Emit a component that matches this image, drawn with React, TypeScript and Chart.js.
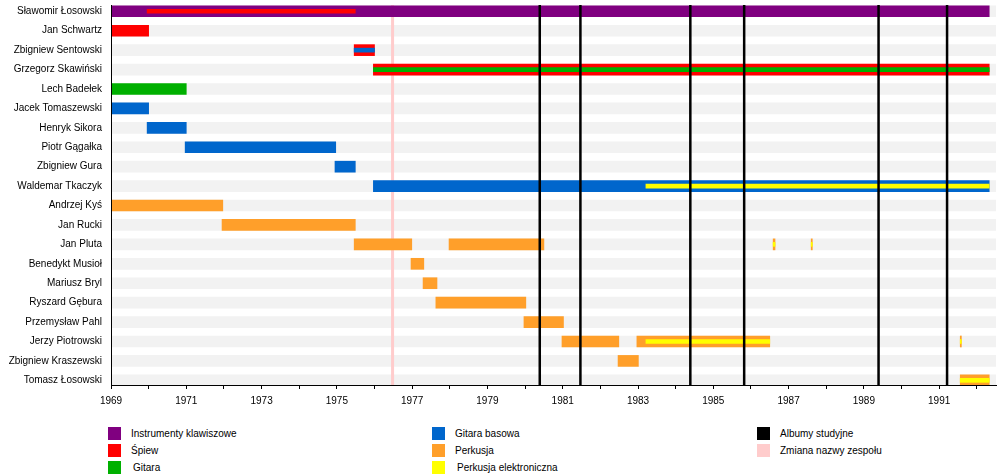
import React, { useEffect, useRef } from "react";
import { Chart, registerables } from "chart.js";

Chart.register(...registerables);

// ---- data ----
const members = [
  "Sławomir Łosowski",
  "Jan Schwartz",
  "Zbigniew Sentowski",
  "Grzegorz Skawiński",
  "Lech Badełek",
  "Jacek Tomaszewski",
  "Henryk Sikora",
  "Piotr Gągałka",
  "Zbigniew Gura",
  "Waldemar Tkaczyk",
  "Andrzej Kyś",
  "Jan Rucki",
  "Jan Pluta",
  "Benedykt Musioł",
  "Mariusz Bryl",
  "Ryszard Gębura",
  "Przemysław Pahl",
  "Jerzy Piotrowski",
  "Zbigniew Kraszewski",
  "Tomasz Łosowski",
];

const START = 1969;
const END = 1992.33;
const AXIS_MAX = 1992.51;

// [memberIndex, from, to]
const keyboards = [[0, 1969, END]];
const vocals = [
  [1, 1969, 1970],
  [2, 1975.46, 1976],
  [3, 1975.97, END],
];
const vocalsInner = [[0, 1969.96, 1975.49]];
const guitar = [[4, 1969, 1971]];
const guitarInner = [[3, 1975.97, END]];
const bass = [
  [5, 1969, 1970],
  [6, 1969.96, 1971],
  [7, 1970.97, 1974.97],
  [8, 1974.95, 1975.49],
  [9, 1975.97, END],
];
const bassInner = [[2, 1975.46, 1976]];
const drums = [
  [10, 1969, 1971.97],
  [11, 1971.95, 1975.49],
  [12, 1975.46, 1976.99],
  [12, 1977.98, 1980.5],
  [12, 1986.59, 1986.64],
  [12, 1987.6, 1987.63],
  [13, 1976.97, 1977.31],
  [14, 1977.29, 1977.66],
  [15, 1977.63, 1980.02],
  [16, 1979.97, 1981.02],
  [17, 1980.98, 1982.49],
  [17, 1982.97, 1986.5],
  [17, 1991.56, 1991.59],
  [18, 1982.47, 1983.01],
  [19, 1991.56, END],
];
const eDrumsInner = [
  [9, 1983.21, END],
  [12, 1986.59, 1986.64],
  [12, 1987.6, 1987.63],
  [17, 1983.21, 1986.5],
  [17, 1991.56, 1991.59],
  [19, 1991.56, END],
];
const studioAlbums = [1980.39, 1981.47, 1984.39, 1985.82, 1989.39, 1991.21];
const bandRename = [1976.48];

const yearTicks = [
  1969, 1970, 1971, 1972, 1973, 1974, 1975, 1976, 1977, 1978, 1979, 1980,
  1981, 1982, 1983, 1984, 1985, 1986, 1987, 1988, 1989, 1990, 1991, 1992,
];
const yearLabels = [1969, 1971, 1973, 1975, 1977, 1979, 1981, 1983, 1985, 1987, 1989, 1991];

const COLORS = {
  keyboards: "#800080",
  vocals: "#ff0000",
  guitar: "#00b000",
  bass: "#0066cc",
  drums: "#ff9f2a",
  eDrums: "#ffff00",
  albums: "#000000",
  rename: "#ffcccc",
  stripe: "#f2f2f2",
};

const legendItems = [
  { label: "Instrumenty klawiszowe", color: COLORS.keyboards, col: 0, row: 0, indent: 0 },
  { label: "Śpiew", color: COLORS.vocals, col: 0, row: 1, indent: 0 },
  { label: "Gitara", color: COLORS.guitar, col: 0, row: 2, indent: 2 },
  { label: "Gitara basowa", color: COLORS.bass, col: 1, row: 0, indent: 0 },
  { label: "Perkusja", color: COLORS.drums, col: 1, row: 1, indent: 0 },
  { label: "Perkusja elektroniczna", color: COLORS.eDrums, col: 1, row: 2, indent: 2 },
  { label: "Albumy studyjne", color: COLORS.albums, col: 2, row: 0, indent: 0 },
  { label: "Zmiana nazwy zespołu", color: COLORS.rename, col: 2, row: 1, indent: 0 },
];
const legendColX = [108, 432, 757];
const legendRowY = [427, 444, 461];

const FONT = "'Liberation Sans', Arial, Helvetica, sans-serif";

const toPoints = (list: number[][]) => list.map(([r, a, b]) => ({ x: [a, b], y: r }));

export default function App() {
  const ref = useRef<HTMLCanvasElement | null>(null);

  useEffect(() => {
    if (!ref.current) return;
    const mk = (label: string, list: number[][], color: string, thick: number, order: number) => ({
      label,
      data: toPoints(list),
      backgroundColor: color,
      borderWidth: 0,
      barThickness: thick,
      grouped: false,
      order,
    });

    const linesPlugin = {
      id: "timelineLines",
      afterDatasetDraw(chart: any, args: any) {
        if (args.index !== 0) return;
        const { ctx, chartArea, scales } = chart;
        ctx.save();
        ctx.strokeStyle = COLORS.rename;
        ctx.lineWidth = 3;
        bandRename.forEach((v) => {
          const x = scales.x.getPixelForValue(v);
          ctx.beginPath();
          ctx.moveTo(x, chartArea.top);
          ctx.lineTo(x, chartArea.bottom);
          ctx.stroke();
        });
        ctx.restore();
      },
      afterDatasetsDraw(chart: any) {
        const { ctx, chartArea, scales } = chart;
        ctx.save();
        ctx.strokeStyle = COLORS.albums;
        ctx.lineWidth = 2.5;
        studioAlbums.forEach((v) => {
          const x = scales.x.getPixelForValue(v);
          ctx.beginPath();
          ctx.moveTo(x, chartArea.top);
          ctx.lineTo(x, chartArea.bottom);
          ctx.stroke();
        });
        ctx.restore();
      },
    };

    const stripes = members.map((_, i) => [i, START, AXIS_MAX]);

    const chart = new Chart(ref.current, {
      type: "bar",
      data: {
        datasets: [
          mk("stripes", stripes, COLORS.stripe, 11, 100),
          mk("Instrumenty klawiszowe", keyboards, COLORS.keyboards, 11, 50),
          mk("Śpiew", vocals, COLORS.vocals, 11, 50),
          mk("Gitara", guitar, COLORS.guitar, 11, 50),
          mk("Gitara basowa", bass, COLORS.bass, 11, 50),
          mk("Perkusja", drums, COLORS.drums, 11, 50),
          mk("Śpiew (2)", vocalsInner, COLORS.vocals, 4, 10),
          mk("Gitara (2)", guitarInner, COLORS.guitar, 4, 10),
          mk("Gitara basowa (2)", bassInner, COLORS.bass, 4, 10),
          mk("Perkusja elektroniczna", eDrumsInner, COLORS.eDrums, 4, 10),
        ] as any,
      },
      options: {
        indexAxis: "y",
        animation: false,
        responsive: false,
        devicePixelRatio: 1,
        layout: { padding: { top: 5, right: 4, left: 0, bottom: 0 } },
        plugins: { legend: { display: false }, tooltip: { enabled: false } },
        scales: {
          x: {
            type: "linear",
            min: START,
            max: AXIS_MAX,
            offset: false,
            afterBuildTicks: (scale: any) => {
              scale.ticks = yearTicks.map((v) => ({ value: v }));
            },
            afterFit: (scale: any) => {
              scale.height = 30;
              scale.paddingLeft = 0;
              scale.paddingRight = 0;
            },
            grid: {
              display: true,
              offset: false,
              drawOnChartArea: false,
              drawTicks: true,
              tickLength: 4,
              color: "#000",
            },
            border: { display: true, color: "#000", width: 1, z: 1 },
            ticks: {
              autoSkip: false,
              maxRotation: 0,
              padding: 6,
              color: "#000",
              font: { family: FONT, size: 10 },
              callback: (v: any) => (yearLabels.includes(Number(v)) ? String(v) : ""),
            },
          },
          y: {
            type: "linear",
            reverse: true,
            min: -0.324,
            max: 19.24,
            offset: false,
            afterBuildTicks: (scale: any) => {
              scale.ticks = members.map((_, i) => ({ value: i }));
            },
            afterFit: (scale: any) => {
              scale.width = 111;
              scale.paddingTop = 0;
              scale.paddingBottom = 0;
            },
            grid: { display: false, drawTicks: false, offset: false },
            border: { display: true, color: "#000", width: 1, z: 1 },
            ticks: {
              autoSkip: false,
              padding: 9,
              color: "#000",
              font: { family: FONT, size: 10 },
              callback: (v: any) => members[Number(v)] ?? "",
            },
          },
        },
      } as any,
      plugins: [linesPlugin],
    });
    return () => chart.destroy();
  }, []);

  return (
    <div style={{ position: "absolute", left: 0, top: 0, width: 1000, height: 475, background: "#fff" }}>
      <canvas ref={ref} width={1000} height={415} style={{ display: "block", width: 1000, height: 415 }} />
      {legendItems.map((it) => (
        <div
          key={it.label}
          style={{
            position: "absolute",
            left: legendColX[it.col],
            top: legendRowY[it.row],
            height: 13,
            display: "flex",
            alignItems: "center",
            fontFamily: FONT,
            fontSize: 10,
            color: "#000",
            whiteSpace: "nowrap",
          }}
        >
          <span style={{ display: "inline-block", width: 13, height: 13, background: it.color }} />
          <span style={{ marginLeft: 10 + it.indent, lineHeight: "13px" }}>{it.label}</span>
        </div>
      ))}
    </div>
  );
}
